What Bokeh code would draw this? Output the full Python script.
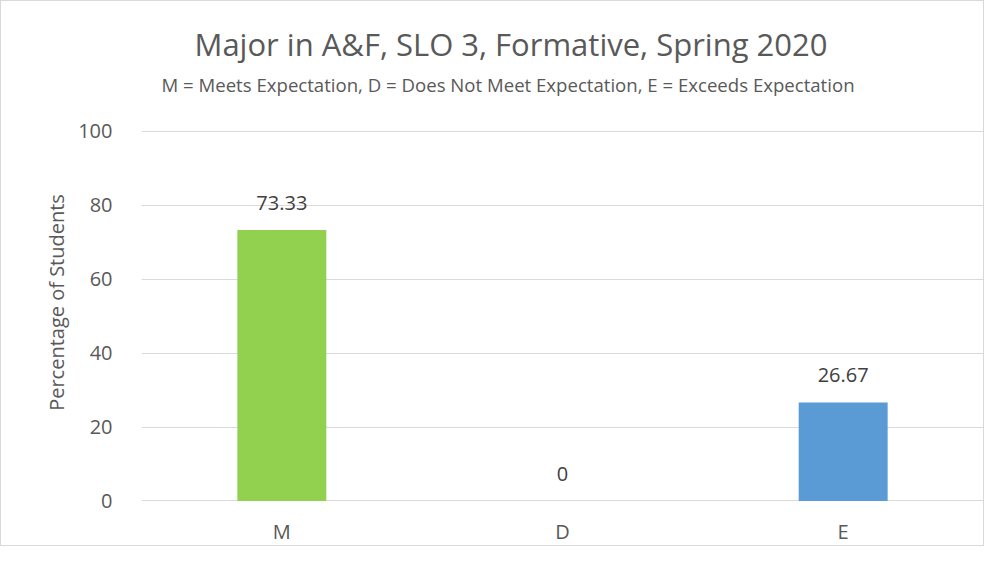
from bokeh.plotting import figure
from bokeh.models import ColumnDataSource, LabelSet, FactorRange, Range1d, FixedTicker, Title
from bokeh.core.properties import value
from bokeh.embed import file_html
from bokeh.resources import INLINE

categories = ["M", "D", "E"]
values = [73.33, 0, 26.67]
colors = ["#92D050", "#5B9BD5", "#5B9BD5"]
labels = ["73.33", "0", "26.67"]
title_text = "Major in A&F, SLO 3, Formative, Spring 2020"
subtitle_text = "M = Meets Expectation, D = Does Not Meet Expectation, E = Exceeds Expectation"
y_ticks = [0, 20, 40, 60, 80, 100]

FONT = "Open Sans"
TXT = "#595959"

src = ColumnDataSource(dict(cat=categories, val=values, col=colors, lab=labels))

p = figure(x_range=FactorRange(*categories, range_padding=0), y_range=Range1d(-0.15, 107.57),
           width=984, height=546, output_backend="svg", toolbar_location=None,
           min_border_left=140, min_border_right=2, min_border_top=102, min_border_bottom=46)
p.title = None
p.styles = {"border": "1px solid #d9d9d9"}

p.vbar(x="cat", top="val", width=0.317, fill_color="col", line_color=None, source=src)

p.add_layout(LabelSet(x="cat", y="val", text="lab", source=src, text_align="center",
                      text_baseline="alphabetic", y_offset=20, text_font=value(FONT),
                      text_font_size="20px", text_color="#404040"))

p.add_layout(Title(text=subtitle_text, align="left", offset=20, text_font=FONT, text_font_size="18.6px",
                   text_font_style="normal", text_color=TXT, standoff=13), "above")
p.add_layout(Title(text=title_text, align="left", offset=53, text_font=FONT, text_font_size="31px",
                   text_font_style="normal", text_color=TXT, standoff=-2), "above")

p.outline_line_color = None
p.xgrid.grid_line_color = None
p.ygrid.grid_line_color = "#d9d9d9"
p.ygrid.grid_line_width = 1
p.yaxis.ticker = FixedTicker(ticks=y_ticks)
for ax in (p.xaxis[0], p.yaxis[0]):
    ax.axis_line_color = None
    ax.major_tick_line_color = None
    ax.minor_tick_line_color = None
    ax.major_label_text_font = FONT
    ax.major_label_text_font_size = "20px"
    ax.major_label_text_color = TXT
p.yaxis.major_label_standoff = 23
p.xaxis.major_label_standoff = 10
p.yaxis.axis_label = "Percentage of Students"
p.yaxis.axis_label_text_font = FONT
p.yaxis.axis_label_text_font_size = "20px"
p.yaxis.axis_label_text_font_style = "normal"
p.yaxis.axis_label_text_color = TXT
p.yaxis.axis_label_standoff = 5

open("out.html", "w").write(file_html(p, INLINE))
